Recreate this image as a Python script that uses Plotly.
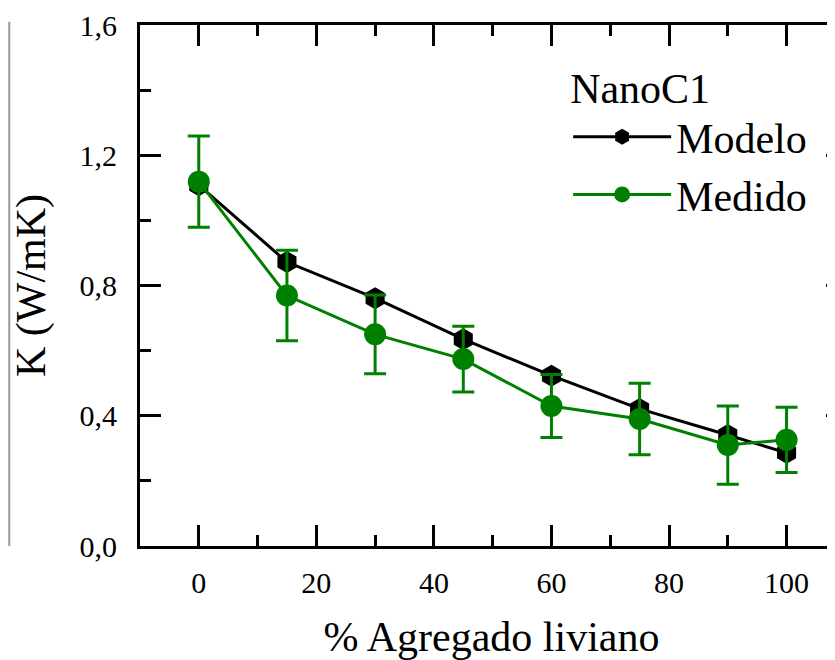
import plotly.graph_objects as go

x_vals = [0, 15, 30, 45, 60, 75, 90, 100]
modelo = [1.108, 0.872, 0.761, 0.635, 0.523, 0.421, 0.341, 0.286]
medido = [1.119, 0.769, 0.650, 0.574, 0.430, 0.390, 0.310, 0.326]
medido_err = [0.140, 0.139, 0.121, 0.101, 0.097, 0.110, 0.120, 0.100]

FONT = "Liberation Serif, Times New Roman, serif"
GREEN = "#008000"

fig = go.Figure()
fig.add_trace(go.Scatter(
    x=x_vals, y=modelo, name="Modelo", mode="lines+markers",
    line=dict(color="black", width=3),
    marker=dict(symbol="hexagon", size=22, color="black"),
))
fig.add_trace(go.Scatter(
    x=x_vals, y=medido, name="Medido", mode="lines+markers",
    line=dict(color=GREEN, width=3),
    marker=dict(symbol="circle", size=22, color=GREEN),
    error_y=dict(type="data", array=medido_err, color=GREEN, thickness=3, width=11),
))
# invisible carrier so the right-hand tick stubs can be drawn
fig.add_trace(go.Scatter(x=[None], y=[None], yaxis="y2", showlegend=False, hoverinfo="skip"))

fig.update_layout(
    width=835, height=660,
    margin=dict(l=132, r=0, t=17, b=122, autoexpand=False),
    paper_bgcolor="white", plot_bgcolor="white",
    font=dict(family=FONT, color="black", size=30),
    separators=", ",
    showlegend=True,
    legend=dict(
        title=dict(text="NanoC1", font=dict(size=42, family=FONT)),
        font=dict(size=42, family=FONT),
        x=0.609, y=0.955, xanchor="left", yanchor="top",
        bgcolor="rgba(0,0,0,0)", borderwidth=0,
        itemwidth=98, tracegroupgap=0,
    ),
    xaxis=dict(
        range=[-10, 109.6], showgrid=False, zeroline=False, automargin=False,
        showline=True, linecolor="black", linewidth=3, mirror="ticks",
        ticks="inside", ticklen=21, tickwidth=3, tickcolor="black",
        tickmode="linear", tick0=0, dtick=20,
        minor=dict(ticks="inside", ticklen=11, tickwidth=3, tickcolor="black",
                   tick0=0, dtick=10),
        tickfont=dict(size=30, family=FONT),
        ticklabelstandoff=8,
        title=dict(text="% Agregado liviano", font=dict(size=42, family=FONT), standoff=24),
    ),
    yaxis=dict(
        range=[0, 1.6], showgrid=False, zeroline=False, automargin=False,
        showline=True, linecolor="black", linewidth=3, mirror=False,
        ticks="inside", ticklen=21, tickwidth=3, tickcolor="black",
        tickmode="linear", tick0=0, dtick=0.4, tickformat=".1f",
        minor=dict(ticks="inside", ticklen=11, tickwidth=3, tickcolor="black",
                   tick0=0, dtick=0.2),
        tickfont=dict(size=30, family=FONT),
        ticklabelstandoff=14,
        title=dict(text="K (W/mK)", font=dict(size=42, family=FONT), standoff=23),
    ),
    yaxis2=dict(
        range=[0, 1.6], overlaying="y", side="right", anchor="x",
        showgrid=False, zeroline=False, showline=False, automargin=False,
        ticks="inside", ticklen=17, tickwidth=3, tickcolor="black",
        tickmode="linear", tick0=0, dtick=0.4, showticklabels=False,
    ),
    shapes=[dict(type="line", xref="paper", yref="paper",
                 x0=-0.186, x1=-0.186, y0=0, y1=1.006,
                 line=dict(color="#9a9a9a", width=2))],
)

fig.write_html("out.html")
